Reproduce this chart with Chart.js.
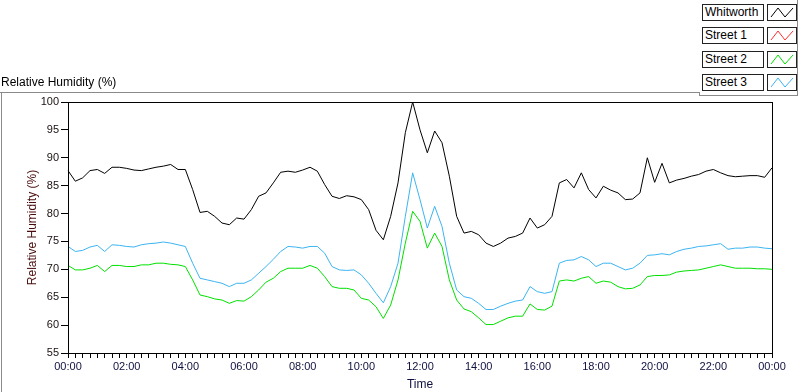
<!DOCTYPE html>
<html>
<head>
<meta charset="utf-8">
<script src="https://cdn.jsdelivr.net/npm/chart.js@4/dist/chart.umd.min.js"></script>
<style>
  body { margin: 0; background: #fff; font-family: "Liberation Sans", Arial, sans-serif; }
  #wrap { position: relative; width: 800px; height: 392px; overflow: hidden; }
  #myChart { position: absolute; left: 0; top: 0; }
  .ln { position: absolute; background: #8a8a8a; }
  #title { position: absolute; left: 1px; top: 75px; font-size: 12px; color: #000; }
  .lg-name { position: absolute; left: 702px; width: 58px; height: 15px; border: 1px solid #222;
    font-size: 12px; line-height: 15px; padding-left: 2px; background: #fff; color: #000; box-sizing: content-box; }
  .lg-line { position: absolute; left: 767px; width: 28px; height: 15px; border: 1px solid #222; background: #fff; }
</style>
</head>
<body>
<div id="wrap">
  <canvas id="myChart" width="800" height="392"></canvas>
  <div id="title">Relative Humidity (%)</div>
  <div class="ln" style="left:0;top:92px;width:700px;height:1px"></div>
  <div class="ln" style="left:1px;top:92px;width:1px;height:300px"></div>
  <div class="ln" style="left:699px;top:92px;width:1px;height:4px"></div>
  <div class="ln" style="left:699px;top:95px;width:99px;height:1px"></div>
  <div class="ln" style="left:797px;top:0;width:1px;height:96px"></div>
  <div id="legend"></div>
</div>
<script>
// series names and colours
const seriesNames = ['Whitworth', 'Street 1', 'Street 2', 'Street 3'];
const seriesColors = ['#000000', '#ff3030', '#00e000', '#3cb4f0'];

// readings every 15 minutes, 00:00 to 00:00 (rows = 2 hours)
const whitworth = [
  87.7, 85.8, 86.4, 87.7, 87.9, 87.2, 88.3, 88.3,
  88.1, 87.8, 87.7, 88.0, 88.3, 88.5, 88.8, 87.9,
  87.9, 84.3, 80.2, 80.4, 79.5, 78.3, 78.0, 79.2,
  79.0, 80.7, 83.1, 83.7, 85.5, 87.4, 87.6, 87.4,
  87.8, 88.3, 87.6, 85.2, 83.1, 82.7, 83.2, 83.0,
  82.5, 80.7, 77.0, 75.3, 79.5, 85.5, 94.5, 100,
  95.0, 90.9, 94.8, 92.7, 86.7, 79.5, 76.5, 76.8,
  76.2, 74.7, 74.1, 74.7, 75.6, 75.9, 76.5, 79.2,
  77.4, 78.0, 79.5, 85.5, 86.1, 84.6, 87.3, 84.3,
  82.8, 84.9, 84.2, 83.7, 82.5, 82.6, 83.7, 90.0,
  85.6, 89.0, 85.5, 86.0, 86.3, 86.7, 87.0, 87.6,
  87.9, 87.3, 86.8, 86.6, 86.7, 86.8, 86.8, 86.5,
  88.2
];
const street1 = [];
const street2 = [
  70.7, 69.9, 69.9, 70.2, 70.7, 69.6, 70.7, 70.7,
  70.5, 70.5, 70.8, 70.8, 71.1, 71.1, 70.9, 70.8,
  70.5, 68.1, 65.4, 65.1, 64.7, 64.5, 63.9, 64.4,
  64.3, 65.1, 66.3, 67.7, 68.4, 69.6, 70.2, 70.2,
  70.2, 70.7, 70.2, 68.7, 66.9, 66.6, 66.6, 66.3,
  64.8, 64.5, 63.3, 61.2, 63.6, 68.1, 74.7, 80.4,
  78.6, 73.8, 76.5, 74.1, 68.1, 64.5, 62.9, 62.4,
  61.3, 60.1, 60.1, 60.7, 61.3, 61.6, 61.6, 63.8,
  62.8, 62.7, 63.4, 67.9, 68.1, 67.9, 68.4, 68.7,
  67.5, 67.9, 67.7, 66.9, 66.5, 66.6, 67.2, 68.7,
  68.9, 68.9, 69.0, 69.5, 69.7, 69.8, 69.9, 70.2,
  70.5, 70.8, 70.5, 70.2, 70.2, 70.2, 70.1, 70.1,
  70.0
];
const street3 = [
  74.1, 73.2, 73.4, 74.0, 74.3, 73.2, 74.4, 74.3,
  74.1, 74.0, 74.4, 74.6, 74.7, 74.9, 74.7, 74.4,
  74.1, 71.1, 68.4, 68.1, 67.8, 67.5, 66.9, 67.5,
  67.5, 68.1, 69.3, 70.5, 71.8, 73.2, 74.1, 74.0,
  73.8, 74.1, 74.1, 72.9, 70.5, 69.9, 69.8, 69.9,
  69.0, 67.5, 65.7, 64.0, 66.9, 71.1, 79.5, 87.3,
  82.5, 77.4, 81.3, 77.7, 71.1, 66.3, 65.1, 64.8,
  63.9, 62.8, 62.8, 63.4, 63.9, 64.3, 64.5, 66.9,
  66.0, 65.7, 66.0, 71.1, 71.6, 71.7, 72.3, 71.7,
  70.5, 71.1, 71.1, 70.5, 69.9, 70.2, 71.1, 72.5,
  72.6, 72.8, 72.6, 73.2, 73.6, 73.8, 74.1, 74.2,
  74.4, 74.6, 73.6, 73.8, 73.8, 74.0, 74.0, 73.8,
  73.7
];

// time labels, one per 15 minutes
const timeLabels = [];
for (let i = 0; i <= 96; i++) {
  const m = (i * 15) % 1440;
  const hh = String(Math.floor(m / 60)).padStart(2, '0');
  const mm = String(m % 60).padStart(2, '0');
  timeLabels.push(hh + ':' + mm);
}

// legend boxes on the right
const legend = document.getElementById('legend');
seriesNames.forEach((name, i) => {
  const top = 4 + i * 23.4;
  const n = document.createElement('div');
  n.className = 'lg-name';
  n.style.top = top + 'px';
  n.textContent = name;
  legend.appendChild(n);
  const l = document.createElement('div');
  l.className = 'lg-line';
  l.style.top = top + 'px';
  l.innerHTML = '<svg width="28" height="15"><polyline points="3,12 10,3 17,12 25,3" fill="none" stroke="' +
    seriesColors[i] + '" stroke-width="1"/></svg>';
  legend.appendChild(l);
});

// frame around the plot area
const frame = {
  id: 'frame',
  afterDraw(chart) {
    const { ctx, chartArea: a } = chart;
    ctx.save();
    ctx.strokeStyle = '#000';
    ctx.lineWidth = 1;
    ctx.strokeRect(Math.round(a.left) + 0.5, Math.round(a.top) + 0.5,
      Math.round(a.right - a.left), Math.round(a.bottom - a.top));
    ctx.restore();
  }
};

const ctx = document.getElementById('myChart').getContext('2d');
const seriesData = [whitworth, street1, street2, street3];

const chart = new Chart(ctx, {
  type: 'line',
  data: {
    labels: timeLabels,
    datasets: seriesNames.map((name, i) => ({
      label: name,
      data: seriesData[i],
      borderColor: seriesColors[i],
      borderWidth: 1,
      pointRadius: 0,
      tension: 0,
      fill: false,
    })).reverse(),
  },
  options: {
    responsive: false,
    animation: false,
    devicePixelRatio: 1,
    layout: { padding: { top: 102, right: 28, left: 0, bottom: 0 } },
    plugins: {
      legend: { display: false },
      tooltip: { enabled: false },
    },
    scales: {
      x: {
        type: 'category',
        offset: false,
        grid: { drawOnChartArea: false, tickLength: 5, color: '#000', tickColor: '#000' },
        border: { color: '#000' },
        ticks: {
          autoSkip: false,
          maxRotation: 0,
          padding: 2,
          color: '#101040',
          font: { family: 'Liberation Sans', size: 11 },
          callback: (v, i) => (i % 8 === 0 ? timeLabels[i] : ''),
        },
        title: {
          display: true,
          text: 'Time',
          color: '#101040',
          font: { family: 'Liberation Sans', size: 12 },
          padding: { top: 0, bottom: 0 },
        },
        afterFit(scale) { scale.height = 39; },
      },
      y: {
        min: 55,
        max: 100,
        grid: { drawOnChartArea: false, tickLength: 7, color: '#000', tickColor: '#000' },
        border: { color: '#000' },
        ticks: {
          stepSize: 5,
          padding: 2,
          color: '#1a1010',
          font: { family: 'Liberation Sans', size: 11 },
        },
        title: {
          display: true,
          text: 'Relative Humidity (%)',
          color: '#4a0c0c',
          font: { family: 'Liberation Sans', size: 12 },
          padding: { top: 25, bottom: 0 },
        },
        afterFit(scale) { scale.width = 68; },
      },
    },
  },
  plugins: [frame],
});
</script>
</body>
</html>
